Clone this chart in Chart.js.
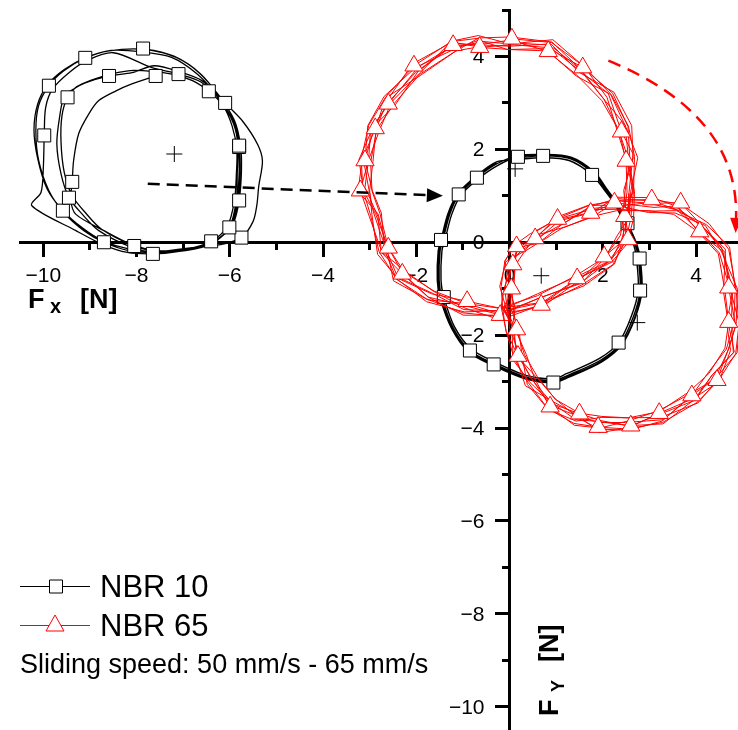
<!DOCTYPE html>
<html><head><meta charset="utf-8">
<script src="https://cdn.jsdelivr.net/npm/chart.js@4.4.0/dist/chart.umd.min.js"></script>
<style>html,body{margin:0;padding:0;background:#fff;}#wrap{width:738px;height:730px;position:relative;}</style>
</head><body><div id="wrap"><canvas id="c" width="738" height="730"></canvas></div>
<script>
// ---------- axis ticks ----------
const xMajorTicks = [-10, -8, -6, -4, -2, 0, 2, 4];
const xMinorTicks = [-9, -7, -5, -3, -1, 1, 3];
const yMajorTicks = [-10, -8, -6, -4, -2, 0, 2, 4];
const yMinorTicks = [-9, -7, -5, -3, -1, 1, 3, 5];
const xRange = [-10.5, 4.9];
const yRange = [-10.5, 5];

// ---------- NBR 10 : first (left) orbit, laps ----------
const nbr10LeftLapA = [[-7.86,4.17],[-7.20,4.01],[-6.66,3.65],[-6.23,3.15],[-5.90,2.62],[-5.77,2.08],[-5.75,1.54],[-5.80,0.90],[-5.92,0.42],[-6.18,0.12],[-6.55,-0.07],[-7.09,-0.18],[-7.63,-0.22],[-8.17,-0.18],[-8.70,0.00],[-9.13,0.25],[-9.56,0.64],[-9.88,1.11],[-10.10,1.76],[-10.16,2.40],[-10.10,2.94],[-9.88,3.37],[-9.56,3.69],[-9.13,3.95],[-8.59,4.12]];
const nbr10LeftLapB = [[-7.80,4.15],[-7.15,3.98],[-6.62,3.62],[-6.10,3.00],[-5.72,2.60],[-5.40,2.10],[-5.30,1.75],[-5.38,1.20],[-5.42,0.80],[-5.50,0.45],[-5.75,0.10],[-6.20,-0.05],[-6.85,-0.12],[-7.55,-0.20],[-8.15,-0.15],[-8.72,0.03],[-9.15,0.30],[-9.58,0.68],[-9.92,1.15],[-10.12,1.80],[-10.20,2.42],[-10.12,2.98],[-9.90,3.40],[-9.55,3.72],[-9.10,3.97],[-8.55,4.13]];
const nbr10LeftLapC = [[-7.90,4.10],[-7.25,3.98],[-6.70,3.62],[-6.25,3.12],[-5.93,2.60],[-5.80,2.05],[-5.78,1.50],[-5.83,0.88],[-5.95,0.40],[-6.22,0.10],[-6.60,-0.08],[-7.12,-0.20],[-7.65,-0.25],[-8.20,-0.22],[-8.72,-0.05],[-9.30,0.25],[-10.25,0.79],[-10.05,1.07],[-10.00,1.60],[-9.98,2.30],[-9.95,2.90],[-9.80,3.30],[-9.45,3.65],[-9.05,3.92],[-8.50,4.08]];
const nbr10LeftLapD = [[-7.67,3.76],[-7.10,3.62],[-6.62,3.45],[-6.20,3.05],[-5.92,2.55],[-5.82,2.05],[-5.84,1.50],[-5.86,0.90],[-6.01,0.32],[-6.38,-0.03],[-6.95,-0.18],[-7.59,-0.22],[-8.10,-0.11],[-8.81,0.25],[-9.17,0.61],[-9.45,0.96],[-9.62,1.47],[-9.71,2.12],[-9.65,2.70],[-9.55,3.15],[-9.35,3.30],[-9.10,3.43],[-8.59,3.58],[-8.10,3.65]];
const nbr10LeftLapE = [[-7.62,3.80],[-7.05,3.66],[-6.60,3.48],[-6.18,3.08],[-5.90,2.58],[-5.80,2.08],[-5.80,1.50],[-5.84,0.92],[-5.98,0.35],[-6.35,0.00],[-6.92,-0.15],[-7.55,-0.20],[-8.05,-0.08],[-8.75,0.28],[-9.10,0.64],[-9.38,1.00],[-9.55,1.50],[-9.62,2.15],[-9.60,2.72],[-9.48,3.12],[-9.28,3.35],[-9.00,3.48],[-8.55,3.62],[-8.05,3.70]];
const nbr10LeftLapF = [[-7.24,3.62],[-6.80,3.48],[-6.45,3.25],[-6.15,2.95],[-5.95,2.50],[-5.85,2.00],[-5.86,1.45],[-5.90,0.90],[-6.05,0.35],[-6.40,0.02],[-6.95,-0.15],[-7.55,-0.18],[-8.10,-0.05],[-8.70,0.25],[-9.30,0.60],[-9.41,0.90],[-9.38,1.30],[-9.35,1.76],[-9.24,2.34],[-9.02,2.77],[-8.81,3.05],[-8.44,3.26],[-8.10,3.41],[-7.59,3.58]];

// ---------- NBR 10 : final orbit, laps ----------
const nbr10RightLap1 = [[0.16,1.82],[0.72,1.86],[1.30,1.80],[1.80,1.48],[2.05,1.15],[2.30,0.80],[2.50,0.40],[2.68,0.00],[2.76,-0.33],[2.80,-1.04],[2.65,-1.62],[2.37,-2.19],[1.95,-2.54],[1.24,-2.87],[0.94,-2.98],[0.37,-2.91],[-0.35,-2.61],[-0.85,-2.33],[-1.21,-1.84],[-1.45,-1.19],[-1.51,-0.82],[-1.49,-0.18],[-1.43,0.04],[-1.28,0.61],[-1.07,1.04],[-0.70,1.39],[-0.27,1.69]];
const nbr10RightLap2 = [[0.16,1.86],[0.72,1.89],[1.32,1.83],[1.82,1.51],[2.07,1.17],[2.32,0.82],[2.53,0.41],[2.71,0.01],[2.80,-0.33],[2.84,-1.05],[2.69,-1.64],[2.40,-2.22],[1.97,-2.58],[1.26,-2.91],[0.94,-3.02],[0.37,-2.95],[-0.36,-2.65],[-0.88,-2.36],[-1.24,-1.86],[-1.49,-1.20],[-1.55,-0.82],[-1.53,-0.18],[-1.47,0.05],[-1.32,0.62],[-1.10,1.06],[-0.72,1.42],[-0.28,1.73]];
const nbr10RightLap3 = [[0.16,1.78],[0.72,1.82],[1.28,1.76],[1.77,1.45],[2.03,1.13],[2.28,0.78],[2.47,0.39],[2.65,-0.01],[2.72,-0.33],[2.76,-1.03],[2.61,-1.60],[2.34,-2.16],[1.93,-2.50],[1.22,-2.83],[0.94,-2.94],[0.37,-2.87],[-0.34,-2.57],[-0.82,-2.30],[-1.18,-1.82],[-1.41,-1.18],[-1.47,-0.82],[-1.45,-0.18],[-1.39,0.03],[-1.24,0.60],[-1.04,1.02],[-0.68,1.36],[-0.26,1.65]];
const nbr10RightLap4 = [[0.18,1.84],[0.74,1.88],[1.31,1.82],[1.81,1.50],[2.06,1.16],[2.31,0.81],[2.52,0.40],[2.70,0.00],[2.79,-0.35],[2.82,-1.06],[2.68,-1.64],[2.39,-2.21],[1.96,-2.57],[1.25,-2.90],[0.95,-3.00],[0.38,-2.93],[-0.34,-2.63],[-0.86,-2.35],[-1.23,-1.86],[-1.47,-1.21],[-1.53,-0.84],[-1.51,-0.20],[-1.45,0.02],[-1.30,0.60],[-1.09,1.03],[-0.72,1.41],[-0.28,1.72]];

// ---------- NBR 65 : first (upper) orbit, laps ----------
const nbr65UpperLap1 = [[0.05,4.38],[0.90,4.30],[1.60,3.78],[2.18,3.18],[2.55,2.50],[2.68,1.85],[2.66,1.12],[2.60,0.52],[2.50,0.05],[2.22,-0.48],[1.55,-0.92],[0.68,-1.35],[-0.20,-1.60],[-1.00,-1.52],[-1.78,-1.22],[-2.42,-0.80],[-2.80,-0.20],[-2.98,0.58],[-3.15,1.15],[-3.18,1.80],[-3.02,2.52],[-2.66,3.12],[-2.05,3.80],[-1.25,4.32],[-0.60,4.40]];
const nbr65UpperLap2 = [[-0.05,4.15],[0.80,4.12],[1.42,3.62],[1.98,3.05],[2.35,2.40],[2.50,1.75],[2.52,1.08],[2.45,0.58],[2.38,0.15],[2.05,-0.32],[1.42,-0.72],[0.60,-1.15],[-0.22,-1.42],[-0.92,-1.32],[-1.62,-1.05],[-2.25,-0.65],[-2.60,-0.12],[-2.78,0.62],[-2.95,1.10],[-2.98,1.72],[-2.85,2.42],[-2.48,2.98],[-1.92,3.62],[-1.15,4.12],[-0.70,4.20]];
const nbr65UpperLap3 = [[0.10,4.25],[0.95,4.18],[1.48,3.75],[2.05,3.05],[2.48,2.52],[2.56,1.70],[2.65,1.15],[2.48,0.50],[2.50,0.12],[2.10,-0.45],[1.45,-0.78],[0.70,-1.30],[-0.15,-1.48],[-0.98,-1.45],[-1.65,-1.10],[-2.40,-0.75],[-2.65,-0.15],[-2.92,0.65],[-3.00,1.05],[-3.12,1.70],[-2.88,2.55],[-2.60,2.98],[-1.95,3.78],[-1.30,4.18],[-0.55,4.32]];
const nbr65UpperLap4 = [[-0.10,4.30],[0.80,4.25],[1.56,3.65],[2.12,3.20],[2.40,2.38],[2.65,1.90],[2.56,1.05],[2.56,0.60],[2.40,0.05],[2.20,-0.35],[1.55,-0.86],[0.60,-1.22],[-0.25,-1.55],[-0.90,-1.38],[-1.75,-1.18],[-2.30,-0.68],[-2.75,-0.22],[-2.82,0.55],[-3.10,1.18],[-3.02,1.82],[-2.98,2.42],[-2.52,3.10],[-2.02,3.65],[-1.18,4.28],[-0.68,4.25]];
const nbr65UpperLap5 = [[0.01,4.42],[0.91,4.31],[1.53,3.72],[2.03,3.07],[2.34,2.41],[2.55,1.79],[2.68,1.09],[2.66,0.51],[2.54,0.06],[2.15,-0.40],[1.44,-0.74],[0.60,-1.11],[-0.20,-1.47],[-0.97,-1.50],[-1.78,-1.28],[-2.43,-0.78],[-2.68,-0.17],[-2.75,0.63],[-2.95,1.13],[-3.10,1.76],[-3.04,2.51],[-2.69,3.14],[-2.02,3.76],[-1.18,4.16],[-0.66,4.35]];
const nbr65UpperLap6 = [[-0.01,4.15],[0.85,4.17],[1.57,3.76],[2.21,3.21],[2.54,2.49],[2.58,1.80],[2.48,1.11],[2.43,0.58],[2.45,0.10],[2.25,-0.47],[1.59,-0.94],[0.67,-1.30],[-0.20,-1.42],[-0.91,-1.27],[-1.67,-1.11],[-2.41,-0.77],[-2.83,-0.26],[-2.95,0.58],[-3.00,1.12],[-2.93,1.74],[-2.86,2.44],[-2.61,3.08],[-2.08,3.84],[-1.23,4.31],[-0.64,4.20]];
const nbr65UpperLap7 = [[0.00,4.27],[0.93,4.36],[1.59,3.79],[2.09,3.12],[2.31,2.40],[2.50,1.79],[2.65,1.10],[2.47,0.56],[2.58,0.04],[2.19,-0.43],[1.47,-0.78],[0.68,-1.35],[-0.20,-1.67],[-0.95,-1.42],[-1.64,-1.05],[-2.23,-0.63],[-2.74,-0.21],[-3.01,0.56],[-3.20,1.11],[-3.03,1.75],[-2.79,2.41],[-2.53,3.02],[-1.93,3.64],[-1.24,4.33],[-0.67,4.45]];
const nbr65UpperLap8 = [[0.01,4.35],[0.83,4.11],[1.43,3.58],[2.17,3.18],[2.50,2.47],[2.75,1.82],[2.60,1.10],[2.57,0.54],[2.32,0.16],[2.05,-0.33],[1.55,-0.88],[0.63,-1.20],[-0.20,-1.57],[-0.99,-1.57],[-1.73,-1.19],[-2.29,-0.67],[-2.60,-0.12],[-2.87,0.60],[-3.13,1.11],[-3.23,1.78],[-2.93,2.47],[-2.45,2.96],[-1.96,3.68],[-1.21,4.24],[-0.64,4.25]];
const nbr65UpperLap9 = [[0.00,4.22],[0.89,4.27],[1.49,3.66],[2.24,3.23],[2.62,2.51],[2.65,1.81],[2.45,1.12],[2.50,0.56],[2.49,0.08],[2.03,-0.31],[1.50,-0.82],[0.70,-1.39],[-0.20,-1.54],[-0.93,-1.32],[-1.75,-1.24],[-2.49,-0.83],[-2.63,-0.14],[-2.82,0.61],[-3.25,1.10],[-3.16,1.77],[-2.88,2.45],[-2.65,3.11],[-1.90,3.60],[-1.16,4.11],[-0.66,4.40]];

// ---------- NBR 65 : final (right) orbit, laps ----------
const nbr65RightLap1 = [[0.48,0.18],[1.05,0.52],[1.72,0.80],[2.32,0.90],[3.05,0.92],[3.68,0.82],[4.28,0.40],[4.70,-0.15],[4.86,-1.02],[4.92,-1.78],[4.85,-2.40],[4.48,-2.98],[4.02,-3.45],[3.28,-3.88],[2.52,-4.02],[1.90,-3.98],[1.38,-3.90],[0.82,-3.58],[0.40,-3.02],[0.10,-2.50],[-0.08,-1.90],[-0.15,-1.40],[-0.18,-0.95],[-0.10,-0.40],[0.12,-0.05]];
const nbr65RightLap2 = [[0.62,-0.02],[1.12,0.30],[1.75,0.55],[2.30,0.68],[3.00,0.68],[3.52,0.60],[4.05,0.22],[4.48,-0.25],[4.62,-1.05],[4.70,-1.72],[4.62,-2.28],[4.28,-2.82],[3.85,-3.22],[3.20,-3.65],[2.55,-3.78],[1.98,-3.75],[1.50,-3.68],[0.98,-3.38],[0.60,-2.90],[0.32,-2.42],[0.15,-1.88],[0.08,-1.42],[0.05,-1.00],[0.12,-0.50],[0.32,-0.20]];
const nbr65RightLap3 = [[0.58,0.12],[1.00,0.48],[1.80,0.65],[2.25,0.85],[3.10,0.75],[3.55,0.78],[4.20,0.28],[4.55,-0.12],[4.78,-1.10],[4.76,-1.70],[4.80,-2.38],[4.35,-2.85],[3.98,-3.40],[3.18,-3.72],[2.60,-3.95],[1.82,-3.85],[1.42,-3.82],[0.90,-3.45],[0.45,-2.92],[0.25,-2.52],[0.00,-1.85],[-0.05,-1.45],[-0.02,-0.92],[0.05,-0.42],[0.20,-0.10]];
const nbr65RightLap4 = [[0.50,0.05],[1.15,0.40],[1.68,0.72],[2.38,0.78],[2.95,0.85],[3.65,0.68],[4.12,0.36],[4.62,-0.22],[4.70,-0.98],[4.85,-1.80],[4.70,-2.30],[4.40,-2.95],[3.90,-3.30],[3.30,-3.82],[2.48,-3.88],[1.92,-3.88],[1.48,-3.75],[0.85,-3.50],[0.52,-3.00],[0.18,-2.45],[0.08,-1.95],[-0.06,-1.35],[-0.10,-1.02],[-0.02,-0.48],[0.25,-0.18]];
const nbr65RightLap5 = [[0.44,0.18],[1.03,0.50],[1.72,0.70],[2.31,0.71],[2.99,0.67],[3.58,0.68],[4.22,0.38],[4.72,-0.10],[4.84,-1.02],[4.81,-1.75],[4.65,-2.30],[4.25,-2.82],[3.91,-3.30],[3.27,-3.85],[2.54,-4.05],[1.93,-4.02],[1.46,-3.78],[0.99,-3.38],[0.58,-2.91],[0.20,-2.49],[-0.07,-1.92],[-0.18,-1.39],[-0.11,-0.97],[0.07,-0.48],[0.19,-0.11]];
const nbr65RightLap6 = [[0.64,0.00],[1.12,0.38],[1.71,0.76],[2.30,0.94],[3.05,0.89],[3.59,0.70],[4.08,0.23],[4.50,-0.23],[4.74,-1.04],[4.93,-1.76],[4.88,-2.38],[4.41,-2.94],[3.88,-3.26],[3.19,-3.63],[2.53,-3.85],[1.94,-4.00],[1.39,-3.94],[0.87,-3.54],[0.54,-2.94],[0.36,-2.42],[0.13,-1.89],[-0.08,-1.40],[-0.21,-0.95],[-0.08,-0.42],[0.32,-0.19]];
const nbr65RightLap7 = [[0.55,0.08],[1.01,0.54],[1.70,0.80],[2.31,0.79],[2.98,0.64],[3.55,0.63],[4.20,0.36],[4.55,-0.21],[4.89,-1.01],[4.86,-1.76],[4.69,-2.31],[4.45,-2.97],[4.04,-3.46],[3.24,-3.77],[2.52,-3.78],[1.98,-3.77],[1.43,-3.85],[0.83,-3.60],[0.38,-3.06],[0.27,-2.46],[0.20,-1.87],[0.02,-1.40],[0.04,-1.00],[-0.10,-0.41],[0.10,-0.06]];
const nbr65RightLap8 = [[0.49,0.13],[1.16,0.32],[1.77,0.54],[2.31,0.89],[3.03,0.84],[3.67,0.85],[4.16,0.32],[4.63,-0.15],[4.59,-1.07],[4.69,-1.74],[4.82,-2.36],[4.33,-2.88],[3.97,-3.38],[3.29,-3.91],[2.53,-3.95],[1.96,-3.84],[1.50,-3.69],[0.92,-3.48],[0.44,-3.02],[0.08,-2.54],[0.05,-1.90],[0.12,-1.41],[-0.01,-0.99],[-0.01,-0.45],[0.27,-0.17]];
const nbr65RightLap9 = [[0.59,0.05],[1.06,0.46],[1.74,0.63],[2.30,0.97],[3.07,0.96],[3.62,0.76],[4.06,0.21],[4.57,-0.19],[4.79,-1.03],[4.66,-1.74],[4.74,-2.33],[4.49,-3.00],[3.95,-3.36],[3.21,-3.68],[2.54,-4.00],[1.92,-4.10],[1.48,-3.73],[0.95,-3.44],[0.34,-3.09],[0.15,-2.51],[0.10,-1.89],[-0.13,-1.40],[0.09,-1.01],[0.12,-0.51],[0.15,-0.09]];

// ---------- orbit centres ----------
const orbitCentres = [[-7.19,1.90],[0.12,1.58],[0.68,-0.72],[2.74,-1.73]];

// ---------- annotations (data coords) ----------
const blackArrow = [[-7.76,1.26],[-1.43,1.00]];
const redArrow = [[2.12,3.91],[4.92,2.75],[4.85,0.20]];

const seriesNames = ['NBR 10', 'NBR 65'];
const noteText = 'Sliding speed: 50 mm/s - 65 mm/s';

const toPts = laps => laps.flat().map(([x, y]) => ({x, y}));
const fmt = v => (v < 0 ? '\u2212' + Math.abs(v) : String(v));
const FONT = "'Liberation Sans', Arial, sans-serif";

const markEvery = (n, off, r) => c => (c.dataIndex % n === off ? r : 0);

const datasets = [
  { label: 'NBR 65 right', data: toPts([nbr65RightLap1, nbr65RightLap5, nbr65RightLap2, nbr65RightLap6, nbr65RightLap3, nbr65RightLap7, nbr65RightLap4, nbr65RightLap8, nbr65RightLap9]),
    showLine: true, borderColor: '#ff0000', borderWidth: 1, tension: 0,
    pointStyle: 'triangle', pointRadius: markEvery(11, 4, 10.5), pointBackgroundColor: '#fff', pointBorderColor: '#ff0000', pointBorderWidth: 1 },
  { label: 'NBR 65', data: toPts([nbr65UpperLap1, nbr65UpperLap5, nbr65UpperLap2, nbr65UpperLap6, nbr65UpperLap3, nbr65UpperLap7, nbr65UpperLap4, nbr65UpperLap8, nbr65UpperLap9]),
    showLine: true, borderColor: '#ff0000', borderWidth: 1, tension: 0,
    pointStyle: 'triangle', pointRadius: markEvery(11, 0, 10.5), pointBackgroundColor: '#fff', pointBorderColor: '#ff0000', pointBorderWidth: 1 },
  { label: 'NBR 10 right', data: toPts([nbr10RightLap1, nbr10RightLap2, nbr10RightLap3, nbr10RightLap4]),
    showLine: true, borderColor: '#000', borderWidth: 1.4, tension: 0.3,
    pointStyle: 'rect', pointRadius: markEvery(8, 1, 9.2), pointBackgroundColor: '#fff', pointBorderColor: '#000', pointBorderWidth: 1 },
  { label: 'NBR 10', data: toPts([nbr10LeftLapA, nbr10LeftLapB, nbr10LeftLapC, nbr10LeftLapD, nbr10LeftLapE, nbr10LeftLapF]),
    showLine: true, borderColor: '#000', borderWidth: 1.3, tension: 0.3,
    pointStyle: 'rect', pointRadius: markEvery(7, 0, 9.2), pointBackgroundColor: '#fff', pointBorderColor: '#000', pointBorderWidth: 1 },
  { label: 'centres', data: toPts([orbitCentres]), showLine: false,
    pointStyle: 'cross', pointRadius: 8, borderColor: '#000', pointBorderColor: '#000', pointBorderWidth: 1 }
];

const px = (chart, p) => [chart.scales.x.getPixelForValue(p[0]), chart.scales.y.getPixelForValue(p[1])];

function arrowHead(ctx, tip, dir, len, half, color) {
  const [dx, dy] = dir; const n = Math.hypot(dx, dy); const ux = dx / n, uy = dy / n;
  ctx.save(); ctx.setLineDash([]); ctx.fillStyle = color; ctx.beginPath();
  ctx.moveTo(tip[0], tip[1]);
  ctx.lineTo(tip[0] - ux * len - uy * half, tip[1] - uy * len + ux * half);
  ctx.lineTo(tip[0] - ux * len + uy * half, tip[1] - uy * len - ux * half);
  ctx.closePath(); ctx.fill(); ctx.restore();
}

const annotPlugin = {
  id: 'annot',
  beforeDatasetsDraw(chart) {
    // y tick labels, placed left of the vertical axis at x = 0
    const ctx = chart.ctx, xs = chart.scales.x, ys = chart.scales.y;
    const ax = xs.getPixelForValue(0);
    ctx.save(); ctx.fillStyle = '#000'; ctx.font = '21px ' + FONT;
    ctx.textAlign = 'right'; ctx.textBaseline = 'middle';
    yMajorTicks.forEach(v => ctx.fillText(fmt(v), ax - 25, ys.getPixelForValue(v) + 1));
    ctx.restore();
  },
  afterDatasetsDraw(chart) {
    const ctx = chart.ctx;
    const a0 = px(chart, blackArrow[0]), a1 = px(chart, blackArrow[1]);
    const d = [a1[0] - a0[0], a1[1] - a0[1]]; const dl = Math.hypot(d[0], d[1]);
    const hl = 16;
    ctx.save(); ctx.strokeStyle = '#000'; ctx.lineWidth = 2.5; ctx.setLineDash([12, 7]);
    ctx.beginPath(); ctx.moveTo(a0[0], a0[1]);
    ctx.lineTo(a1[0] - d[0] / dl * hl, a1[1] - d[1] / dl * hl); ctx.stroke(); ctx.restore();
    arrowHead(ctx, a1, d, hl, 7, '#000');
    const r0 = px(chart, redArrow[0]), rc = px(chart, redArrow[1]), r1 = px(chart, redArrow[2]);
    const rd = [r1[0] - rc[0], r1[1] - rc[1]]; const rl = Math.hypot(rd[0], rd[1]);
    const rh = 15;
    const end = [r1[0] - rd[0] / rl * rh, r1[1] - rd[1] / rl * rh];
    ctx.save(); ctx.strokeStyle = '#ff0000'; ctx.lineWidth = 2.5; ctx.setLineDash([13, 8]);
    ctx.beginPath(); ctx.moveTo(r0[0], r0[1]); ctx.quadraticCurveTo(rc[0], rc[1], end[0], end[1]); ctx.stroke(); ctx.restore();
    arrowHead(ctx, r1, rd, rh, 6, '#ff0000');
  },
  afterDraw(chart) {
    const ctx = chart.ctx;
    ctx.save();
    ctx.fillStyle = '#000';
    ctx.textBaseline = 'alphabetic'; ctx.textAlign = 'left';
    // x axis title
    ctx.font = 'bold 27px ' + FONT; ctx.fillText('F', 28, 308);
    ctx.font = 'bold 20px ' + FONT; ctx.fillText('x', 50, 313);
    ctx.font = 'bold 27px ' + FONT; ctx.fillText('[N]', 80, 308);
    // y axis title (rotated)
    ctx.save(); ctx.translate(558, 716); ctx.rotate(-Math.PI / 2);
    ctx.font = 'bold 27px ' + FONT; ctx.fillText('F', 0, 0);
    ctx.font = 'bold 18px ' + FONT; ctx.fillText('Y', 24, 6);
    ctx.font = 'bold 27px ' + FONT; ctx.fillText('[N]', 54, 0);
    ctx.restore();
    // legend
    const lg = [{y: 586, color: '#000', style: 'rect'}, {y: 625, color: '#ff0000', style: 'tri'}];
    lg.forEach((it, i) => {
      ctx.strokeStyle = it.color; ctx.lineWidth = 1; ctx.setLineDash([]);
      ctx.beginPath(); ctx.moveTo(20, it.y + 0.5); ctx.lineTo(90, it.y + 0.5); ctx.stroke();
      ctx.fillStyle = '#fff'; ctx.beginPath();
      if (it.style === 'rect') { ctx.rect(49.5, it.y - 6, 13, 13); }
      else { ctx.moveTo(55, it.y - 10); ctx.lineTo(64, it.y + 6); ctx.lineTo(46, it.y + 6); ctx.closePath(); }
      ctx.fill(); ctx.stroke();
      ctx.fillStyle = '#000'; ctx.font = '31px ' + FONT;
      ctx.fillText(seriesNames[i], 100, it.y + 11);
    });
    ctx.font = '27px ' + FONT; ctx.fillText(noteText, 20, 673);
    ctx.restore();
  }
};

const tickDash = (minor) => c => (c.tick && minor.includes(c.tick.value) ? [6, 40] : []);
const noPad = s => { s.paddingLeft = 0; s.paddingRight = 0; s.paddingTop = 0; s.paddingBottom = 0; };

new Chart(document.getElementById('c'), {
  type: 'scatter',
  data: { datasets },
  options: {
    responsive: false, animation: false, devicePixelRatio: 1, events: [],
    layout: { autoPadding: false, padding: { left: 20, right: 0, top: 10, bottom: 0 } },
    plugins: { legend: { display: false }, tooltip: { enabled: false } },
    scales: {
      x: {
        type: 'linear', min: xRange[0], max: xRange[1], position: { y: 0 },
        afterBuildTicks: s => { s.ticks = [...xMajorTicks, ...xMinorTicks].sort((a, b) => a - b).map(v => ({value: v})); },
        afterFit: noPad,
        grid: { drawOnChartArea: false, drawTicks: true, tickLength: 13, tickWidth: 3, tickColor: '#000', tickBorderDash: tickDash(xMinorTicks) },
        border: { display: true, color: '#000', width: 3 },
        ticks: { color: '#000', font: { family: FONT, size: 21 }, padding: 8, autoSkip: false, maxRotation: 0,
                 callback: v => (xMajorTicks.includes(v) ? fmt(v) : '') }
      },
      y: {
        type: 'linear', min: yRange[0], max: yRange[1], position: { x: 0 },
        afterBuildTicks: s => { s.ticks = [...yMajorTicks, ...yMinorTicks].sort((a, b) => a - b).map(v => ({value: v})); },
        afterFit: noPad,
        grid: { drawOnChartArea: false, drawTicks: true, tickLength: 13, tickWidth: 3, tickColor: '#000', tickBorderDash: tickDash(yMinorTicks) },
        border: { display: true, color: '#000', width: 3 },
        ticks: { display: false }
      }
    }
  },
  plugins: [annotPlugin]
});
</script></body></html>
